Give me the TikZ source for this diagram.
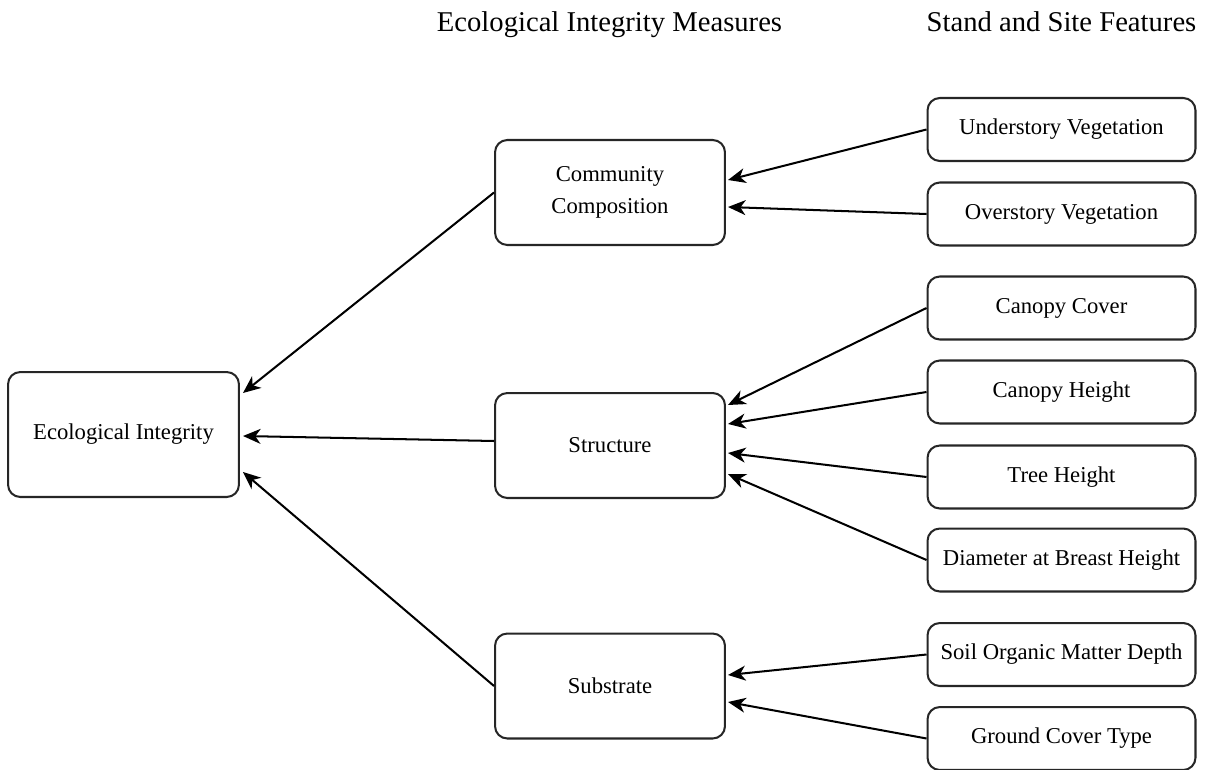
\documentclass[tikz,border=0pt]{standalone}
\usepackage{fontspec}
\setmainfont{Liberation Serif}
\usetikzlibrary{arrows.meta,positioning,calc}
\tikzset{every picture/.style={line width=1.15pt}}

\begin{document}
\begin{tikzpicture}[x=0.02cm,y=-0.02cm,
    box/.style={draw=black!85,rounded corners=7pt,align=center,
        font=\fontsize{12.9}{18.6}\selectfont,inner sep=0pt},
    measure/.style={box,minimum width=4.6cm,minimum height=2.1cm},
    feature/.style={box,minimum width=5.36cm,minimum height=1.26cm},
    head/.style={anchor=base,font=\fontsize{16.3}{19}\selectfont},
    link/.style={-{Stealth[length=10pt,width=8.5pt,inset=3pt]},black}]
    \useasboundingbox (0,0) rectangle (1206,770);

    % Column headings
    \node[head] (hm) at (609.5,32) {Ecological Integrity Measures};
    \node[head] (hf) at (1061.5,32) {Stand and Site Features};

    % Outcome
    \node[box,minimum width=4.62cm,minimum height=2.5cm] (ei) at (123.5,434.5) {Ecological Integrity};

    % Integrity measures
    \node[measure] (cc) at (610,192.5) {Community\\Composition};
    \node[measure] (st) at (610,445.5) {Structure};
    \node[measure] (sb) at (610,686) {Substrate};

    % Stand and site features
    \node[feature] (uv)  at (1061.5,129.5) {Understory Vegetation};
    \node[feature] (ov)  at (1061.5,214)   {Overstory Vegetation};
    \node[feature] (ccv) at (1061.5,308)   {Canopy Cover};
    \node[feature] (chg) at (1061.5,392)   {Canopy Height};
    \node[feature] (thg) at (1061.5,477)   {Tree Height};
    \node[feature] (dbh) at (1061.5,560)   {Diameter at Breast Height};
    \node[feature] (som) at (1061.5,654.5) {Soil Organic Matter Depth};
    \node[feature] (gct) at (1061.5,738.5) {Ground Cover Type};

    % Features -> measures
    \draw[link] (uv.west)  -- ($(cc.east)+(2,-12.5)$);
    \draw[link] (ov.west)  -- ($(cc.east)+(2,14.5)$);
    \draw[link] (ccv.west) -- ($(st.east)+(2,-40.5)$);
    \draw[link] (chg.west) -- ($(st.east)+(2,-21.5)$);
    \draw[link] (thg.west) -- ($(st.east)+(2,7.5)$);
    \draw[link] (dbh.west) -- ($(st.east)+(2,28.5)$);
    \draw[link] (som.west) -- ($(sb.east)+(2,-11)$);
    \draw[link] (gct.west) -- ($(sb.east)+(2,16)$);

    % Measures -> integrity
    \draw[link] (cc.west) -- ($(ei.east)+(3,-41.5)$);
    \draw[link] ($(st.west)+(0,-4.5)$) -- ($(ei.east)+(3,1.5)$);
    \draw[link] (sb.west) -- ($(ei.east)+(3,37.5)$);
\end{tikzpicture}
\end{document}
